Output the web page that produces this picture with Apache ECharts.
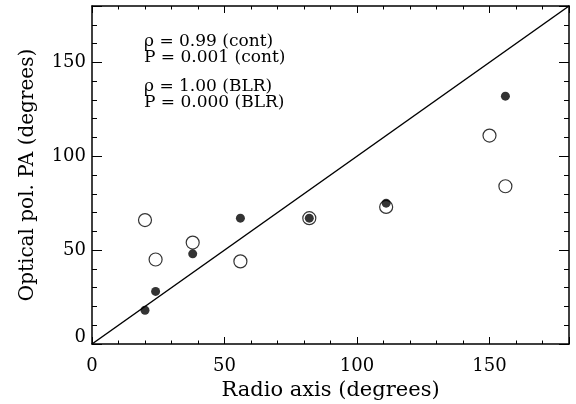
<!DOCTYPE html>
<html><head><meta charset="utf-8">
<script src="https://cdn.jsdelivr.net/npm/echarts@6/dist/echarts.min.js"></script>
<style>html,body{margin:0;padding:0;background:#fff}#c{width:576px;height:404px}</style>
</head><body><div id="c"></div>
<script>
// Data
const contX = [20, 24, 38, 56, 82, 111, 150, 156];
const contY = [66, 45, 54, 44, 67, 73, 111, 84];
const blrX = [20, 24, 38, 56, 82, 111, 156];
const blrY = [18, 28, 48, 67, 67, 75, 132];
const lineX = [0, 180];
const lineY = [0, 180];
const annotations = ['\u03c1 = 0.99 (cont)', 'P = 0.001 (cont)', '\u03c1 = 1.00 (BLR)', 'P = 0.000 (BLR)'];

const font = 'DejaVu Serif';
const chart = echarts.init(document.getElementById('c'), null, {renderer: 'canvas'});
const axisCommon = {
  type: 'value', min: 0, max: 180, interval: 50,
  axisLine: {show: true, onZero: false, lineStyle: {color: '#000', width: 1.5}},
  splitLine: {show: false},
  minorTick: {show: true, splitNumber: 5, lineStyle: {color: '#000', width: 1}},
  axisTick: {show: true, inside: true, lineStyle: {color: '#000', width: 1}}
};
function xAx(pos, labels) {
  return Object.assign({}, axisCommon, {
    position: pos,
    axisTick: Object.assign({}, axisCommon.axisTick, {length: 7}),
    minorTick: Object.assign({}, axisCommon.minorTick, {length: 3.5}),
    axisLabel: {show: labels, showMaxLabel: false, color: '#000', fontFamily: font, fontSize: 18, margin: 13},
    name: labels ? 'Radio axis (degrees)' : '',
    nameLocation: 'middle', nameGap: 25,
    nameTextStyle: {color: '#000', fontFamily: font, fontSize: 21}
  });
}
function yAx(pos, labels) {
  return Object.assign({}, axisCommon, {
    position: pos,
    axisTick: Object.assign({}, axisCommon.axisTick, {length: 10}),
    minorTick: Object.assign({}, axisCommon.minorTick, {length: 5}),
    axisLabel: {show: labels, showMaxLabel: false, color: '#000', fontFamily: font, fontSize: 18, margin: 6,
      formatter: v => v === 0 ? '{z|0}' : String(v),
      rich: {z: {fontFamily: font, fontSize: 18, color: '#000', padding: [0, 0, 13, 0]}}},
    name: labels ? 'Optical pol. PA (degrees)' : '',
    nameLocation: 'middle', nameGap: 54,
    nameTextStyle: {color: '#000', fontFamily: font, fontSize: 20}
  });
}
const zip = (a, b) => a.map((v, i) => [v, b[i]]);
chart.setOption({
  animation: false,
  backgroundColor: '#fff',
  grid: {left: 92, right: 7, top: 6, bottom: 60, containLabel: false, outerBoundsMode: 'none'},
  xAxis: [xAx('bottom', true), xAx('top', false)],
  yAxis: [yAx('left', true), yAx('right', false)],
  series: [
    {type: 'line', data: zip(lineX, lineY), symbol: 'none', lineStyle: {color: '#000', width: 1.5}, z: 1},
    {type: 'scatter', data: zip(contX, contY), symbol: 'circle', symbolSize: 13,
      itemStyle: {color: '#fff', borderColor: '#000', borderWidth: 1.2}, z: 2},
    {type: 'scatter', data: zip(blrX, blrY), symbol: 'circle', symbolSize: 9,
      itemStyle: {color: '#000'}, z: 3}
  ],
  graphic: annotations.map((t, i) => ({
    type: 'text', x: 144, y: [42, 58, 87, 103][i],
    style: {text: t, font: '17px "DejaVu Serif"', fill: '#000', verticalAlign: 'middle', align: 'left'}
  }))
});
</script></body></html>
